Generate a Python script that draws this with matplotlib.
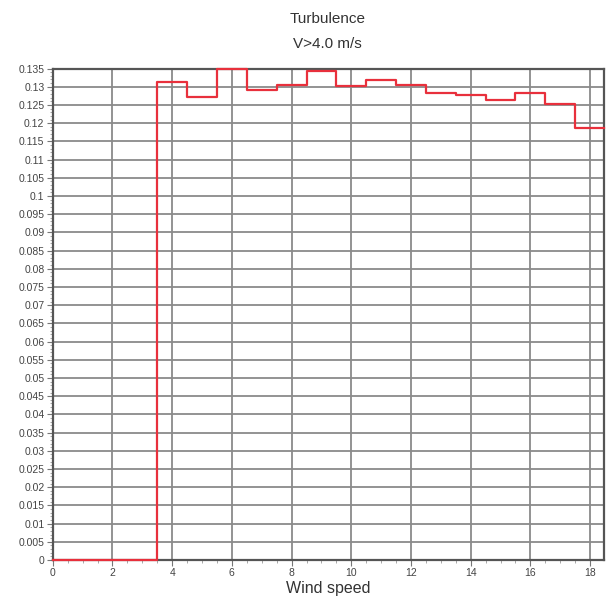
import numpy as np
import matplotlib.pyplot as plt
from matplotlib.ticker import MultipleLocator, FuncFormatter

# bin edges (wind speed) and turbulence value in each bin
bin_edges = [0.0, 3.5, 4.5, 5.5, 6.5, 7.5, 8.5, 9.5, 10.5, 11.5, 12.5,
             13.5, 14.5, 15.5, 16.5, 17.5, 18.5]
turb = [0.0, 0.1313, 0.1273, 0.135, 0.1290, 0.1304, 0.1343, 0.1302, 0.1318,
        0.1304, 0.1282, 0.1277, 0.1263, 0.1283, 0.1253, 0.1187]

title_lines = ['Turbulence', 'V>4.0 m/s']
xlabel = 'Wind speed'

plt.rcParams['font.family'] = ['Liberation Sans', 'DejaVu Sans']


def fmt_y(v, pos):
    s = '%.3f' % v
    s = s.rstrip('0').rstrip('.')
    return s if s else '0'


def main():
    fig = plt.figure(figsize=(6.06, 6.06), dpi=100)
    ax = fig.add_axes([0.087, 0.0759, 0.909, 0.811])

    ax.set_xlim(0, 18.45)
    ax.set_ylim(0, 0.135)

    xs = np.array(bin_edges)
    ys = np.append(turb, turb[-1])
    # clip only at the right edge so the line can sit on the top/bottom spines
    xs = np.clip(xs, 0, 18.45)
    ax.step(xs, ys, where='post', color='#e8303c', lw=1.6, zorder=5,
            clip_on=False)

    ax.xaxis.set_major_locator(MultipleLocator(2))
    ax.xaxis.set_minor_locator(MultipleLocator(0.5))
    ax.yaxis.set_major_locator(MultipleLocator(0.005))
    ax.yaxis.set_minor_locator(MultipleLocator(0.001))
    ax.yaxis.set_major_formatter(FuncFormatter(fmt_y))

    ax.grid(True, which='major', color='#8a8a8a', lw=1.3)
    ax.set_axisbelow(True)
    for sp in ax.spines.values():
        sp.set_color('#555555')
        sp.set_linewidth(1.6)

    ax.tick_params(which='major', length=4, width=0.8, color='#777777',
                   labelsize=7.5, labelcolor='#444444', pad=2)
    ax.tick_params(which='minor', length=2.5, width=0.6, color='#999999')

    ax.set_xlabel(xlabel, fontsize=11.5, color='#333333', labelpad=2)
    fig.text(0.541, 0.968, title_lines[0], ha='center', va='center',
             fontsize=11, color='#333333')
    fig.text(0.541, 0.927, title_lines[1], ha='center', va='center',
             fontsize=11, color='#333333')

    fig.savefig('out.png', dpi=100, facecolor='white')


if __name__ == "__main__":
    main()
